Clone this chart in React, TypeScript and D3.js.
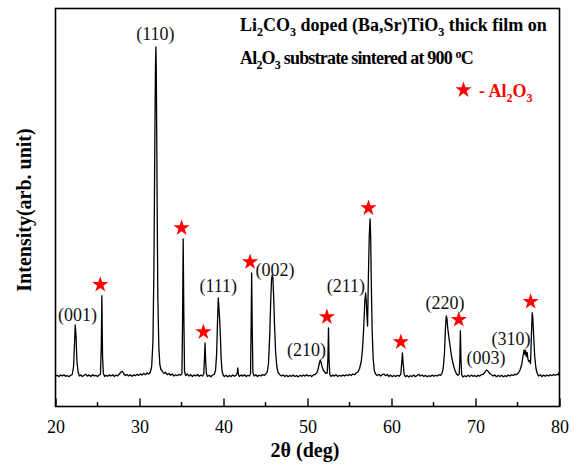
import React, { useRef, useEffect } from 'react';
import * as d3 from 'd3';

// XRD trace: [2theta (deg), intensity (a.u.)]
const xrdTrace: [number, number][] = [
  [20.0, 305], [20.2, 312], [20.4, 300], [20.6, 315], [20.8, 305], [21.0, 318], [21.2, 302], [21.4, 310],
  [21.6, 298], [21.8, 312], [22.0, 320], [22.15, 400], [22.25, 600], [22.35, 815], [22.45, 700], [22.55, 450],
  [22.7, 340], [22.85, 305], [23.0, 315], [23.2, 300], [23.4, 312], [23.6, 322], [23.8, 304], [24.0, 316],
  [24.2, 300], [24.4, 318], [24.6, 306], [24.8, 312], [25.0, 300], [25.2, 315], [25.35, 320], [25.45, 600],
  [25.52, 1108], [25.6, 500], [25.7, 330], [25.85, 300], [26.0, 312], [26.2, 302], [26.4, 316], [26.6, 305],
  [26.8, 318], [27.0, 300], [27.2, 314], [27.4, 306], [27.6, 325], [27.8, 345], [27.95, 352], [28.1, 330],
  [28.3, 310], [28.5, 320], [28.7, 305], [28.9, 318], [29.1, 302], [29.3, 316], [29.5, 308], [29.7, 322],
  [29.9, 310], [30.1, 326], [30.3, 314], [30.5, 330], [30.7, 318], [30.9, 335], [31.1, 325], [31.3, 345],
  [31.45, 400], [31.6, 650], [31.72, 1400], [31.82, 2600], [31.9, 3400], [31.95, 3595], [32.0, 3350], [32.08, 2300],
  [32.18, 1100], [32.3, 600], [32.42, 420], [32.55, 370], [32.7, 355], [32.9, 330], [33.1, 342], [33.3, 318],
  [33.5, 330], [33.7, 312], [33.9, 325], [34.1, 305], [34.3, 318], [34.5, 308], [34.7, 322], [34.9, 312],
  [35.05, 330], [35.12, 800], [35.2, 1675], [35.28, 900], [35.36, 350], [35.5, 310], [35.7, 325], [35.9, 305],
  [36.1, 318], [36.3, 300], [36.5, 315], [36.7, 306], [36.9, 320], [37.1, 302], [37.3, 314], [37.5, 305],
  [37.65, 325], [37.73, 470], [37.8, 635], [37.88, 450], [37.96, 330], [38.1, 300], [38.3, 312], [38.5, 298],
  [38.7, 315], [38.9, 320], [39.05, 360], [39.18, 520], [39.3, 880], [39.38, 1085], [39.46, 980], [39.55, 860],
  [39.63, 700], [39.72, 480], [39.82, 360], [39.95, 315], [40.1, 300], [40.3, 312], [40.5, 296], [40.7, 310],
  [40.9, 300], [41.1, 315], [41.3, 302], [41.5, 312], [41.62, 330], [41.7, 385], [41.78, 320], [41.9, 300],
  [42.1, 316], [42.3, 304], [42.5, 318], [42.7, 300], [42.9, 312], [43.1, 305], [43.22, 330], [43.29, 800],
  [43.35, 1335], [43.42, 800], [43.5, 340], [43.65, 305], [43.85, 318], [44.05, 300], [44.25, 314], [44.45, 305],
  [44.65, 320], [44.85, 310], [45.05, 325], [45.2, 345], [45.35, 420], [45.5, 700], [45.62, 1050], [45.72, 1270],
  [45.8, 1315], [45.88, 1290], [45.97, 1100], [46.07, 820], [46.2, 550], [46.35, 400], [46.5, 340], [46.7, 318],
  [46.9, 305], [47.1, 315], [47.3, 300], [47.5, 312], [47.7, 298], [47.9, 310], [48.1, 302], [48.3, 314],
  [48.5, 300], [48.7, 310], [48.9, 296], [49.1, 312], [49.3, 302], [49.5, 315], [49.7, 304], [49.9, 318],
  [50.1, 305], [50.3, 312], [50.5, 300], [50.7, 316], [50.9, 320], [51.1, 335], [51.25, 370], [51.4, 430],
  [51.52, 465], [51.62, 440], [51.75, 395], [51.9, 360], [52.05, 345], [52.2, 330], [52.35, 335], [52.43, 480],
  [52.5, 785], [52.57, 460], [52.65, 320], [52.8, 300], [53.0, 314], [53.2, 304], [53.4, 318], [53.6, 300],
  [53.8, 312], [54.0, 302], [54.2, 315], [54.4, 305], [54.6, 318], [54.8, 308], [55.0, 322], [55.2, 310],
  [55.4, 325], [55.6, 318], [55.8, 335], [56.0, 345], [56.2, 380], [56.4, 450], [56.55, 580], [56.7, 800],
  [56.82, 1050], [56.92, 1135], [57.0, 1050], [57.08, 900], [57.15, 805], [57.25, 1300], [57.35, 1700], [57.45, 1875],
  [57.52, 1700], [57.6, 1200], [57.7, 750], [57.82, 480], [57.95, 360], [58.1, 325], [58.3, 310], [58.5, 322],
  [58.7, 305], [58.9, 318], [59.1, 325], [59.3, 308], [59.5, 320], [59.7, 300], [59.9, 314], [60.1, 298],
  [60.3, 310], [60.5, 300], [60.7, 312], [60.9, 302], [61.1, 320], [61.2, 420], [61.3, 535], [61.4, 420],
  [61.5, 325], [61.65, 298], [61.85, 310], [62.05, 295], [62.25, 308], [62.45, 300], [62.65, 315], [62.85, 298],
  [63.05, 310], [63.25, 322], [63.45, 305], [63.65, 315], [63.85, 300], [64.05, 312], [64.25, 296], [64.45, 308],
  [64.65, 300], [64.85, 314], [65.05, 302], [65.25, 312], [65.45, 305], [65.65, 318], [65.85, 312], [66.0, 330],
  [66.15, 380], [66.3, 520], [66.42, 780], [66.52, 905], [66.6, 880], [66.7, 780], [66.85, 680], [67.0, 590],
  [67.15, 500], [67.3, 440], [67.45, 390], [67.6, 350], [67.75, 325], [67.9, 312], [68.05, 320], [68.13, 450],
  [68.2, 758], [68.27, 480], [68.35, 320], [68.5, 295], [68.7, 308], [68.9, 298], [69.1, 312], [69.3, 300],
  [69.5, 314], [69.7, 302], [69.9, 310], [70.1, 298], [70.3, 312], [70.5, 304], [70.7, 318], [70.9, 322],
  [71.1, 340], [71.3, 365], [71.5, 352], [71.7, 330], [71.9, 318], [72.1, 305], [72.3, 315], [72.5, 298],
  [72.7, 310], [72.9, 300], [73.1, 312], [73.3, 296], [73.5, 308], [73.7, 300], [73.9, 315], [74.1, 305],
  [74.3, 318], [74.5, 310], [74.7, 322], [74.9, 320], [75.1, 335], [75.3, 365], [75.5, 420], [75.65, 500],
  [75.78, 565], [75.88, 520], [75.96, 560], [76.05, 500], [76.15, 540], [76.25, 470], [76.35, 450], [76.45, 460],
  [76.55, 430], [76.65, 700], [76.75, 938], [76.83, 880], [76.93, 700], [77.05, 500], [77.2, 380], [77.35, 330],
  [77.5, 305], [77.7, 318], [77.9, 300], [78.1, 314], [78.3, 302], [78.5, 315], [78.7, 305], [78.9, 318],
  [79.1, 308], [79.3, 320], [79.5, 312], [79.7, 322], [79.85, 315], [80.0, 348],
];

// perovskite reflections: [label, 2theta of label centre, intensity at label baseline]
const hklLabels: [string, number, number][] = [
  ['(001)', 22.62, 855],
  ['(110)', 31.9, 3665],
  ['(111)', 39.38, 1145],
  ['(002)', 46.13, 1310],
  ['(210)', 49.88, 505],
  ['(211)', 54.58, 1150],
  ['(220)', 66.37, 975],
  ['(003)', 71.25, 425],
  ['(310)', 74.23, 615],
];

// Al2O3 substrate peaks (2theta)
const al2o3Peaks = [25.52, 35.2, 37.8, 43.35, 52.5, 57.45, 61.3, 68.2, 76.75];

const xDomain: [number, number] = [20, 80];
const yDomain: [number, number] = [0, 3980];
const xMajorTicks = [20, 30, 40, 50, 60, 70, 80];
const xMinorTicks = [25, 35, 45, 55, 65, 75];

const W = 575;
const H = 468;
const FONT = 'Liberation Serif';

const App = () => {
  const svgRef = useRef<SVGSVGElement>(null);

  useEffect(() => {
    const svg = d3.select(svgRef.current);
    svg.selectAll('*').remove();

    const left = 55.5, right = 559.5, top = 8.5, bottom = 406.5;

    const x = d3.scaleLinear().domain(xDomain).range([left, right]);
    const y = d3.scaleLinear().domain(yDomain).range([bottom, top]);

    // the XRD pattern
    const line = d3.line<[number, number]>()
      .x(d => x(d[0]))
      .y(d => y(d[1]));

    svg.append('path')
      .datum(xrdTrace)
      .attr('d', line)
      .attr('fill', 'none')
      .attr('stroke', '#000')
      .attr('stroke-width', 1.3)
      .attr('stroke-linejoin', 'round');

    // frame
    svg.append('rect')
      .attr('x', left)
      .attr('y', top)
      .attr('width', right - left)
      .attr('height', bottom - top)
      .attr('fill', 'none')
      .attr('stroke', '#000')
      .attr('stroke-width', 1.6);

    // bottom axis, ticks pointing inwards
    const axis = svg.append('g')
      .attr('transform', `translate(0,${bottom})`)
      .call(d3.axisBottom(x).tickValues(xMajorTicks).tickSize(-8).tickPadding(14).tickFormat(d3.format('d')));
    axis.select('.domain').remove();
    axis.selectAll('line').attr('stroke-width', 1.4);
    axis.selectAll('text')
      .attr('font-family', FONT)
      .attr('font-size', 18)
      .attr('fill', '#000');

    svg.append('g')
      .selectAll('line')
      .data(xMinorTicks)
      .enter()
      .append('line')
      .attr('x1', d => x(d))
      .attr('x2', d => x(d))
      .attr('y1', bottom)
      .attr('y2', bottom - 4.5)
      .attr('stroke', '#000')
      .attr('stroke-width', 1.4);

    // hkl labels
    svg.append('g')
      .selectAll('text')
      .data(hklLabels)
      .enter()
      .append('text')
      .attr('x', d => x(d[1]))
      .attr('y', d => y(d[2]))
      .attr('text-anchor', 'middle')
      .attr('font-family', FONT)
      .attr('font-size', 18)
      .attr('fill', '#111')
      .text(d => d[0]);

    // Al2O3 stars just above each peak
    const peakTop = (p: number) =>
      d3.max(xrdTrace.filter(d => Math.abs(d[0] - p) < 0.1), d => d[1]) as number;

    const star = d3.symbol().type(d3.symbolStar).size(82);
    svg.append('g')
      .selectAll('path')
      .data(al2o3Peaks)
      .enter()
      .append('path')
      .attr('d', star)
      .attr('transform', d => `translate(${x(d) - 1.6},${y(peakTop(d)) - 11})`)
      .attr('fill', '#ff0000');

    // title
    const title = svg.append('text')
      .attr('font-family', FONT)
      .attr('font-weight', 'bold')
      .attr('font-size', 18)
      .attr('fill', '#000')
      .attr('x', 240)
      .attr('y', 30.5);
    title.append('tspan').text('Li');
    title.append('tspan').attr('font-size', 12).attr('dy', 5).text('2');
    title.append('tspan').attr('dy', -5).text('CO');
    title.append('tspan').attr('font-size', 12).attr('dy', 5).text('3');
    title.append('tspan').attr('dy', -5).text(' doped (Ba,Sr)TiO');
    title.append('tspan').attr('font-size', 12).attr('dy', 5).text('3');
    title.append('tspan').attr('dy', -5).text(' thick film on');

    const title2 = svg.append('text')
      .attr('font-family', FONT)
      .attr('font-weight', 'bold')
      .attr('font-size', 18)
      .attr('fill', '#000')
      .attr('letter-spacing', -0.8)
      .attr('x', 240)
      .attr('y', 64);
    title2.append('tspan').text('Al');
    title2.append('tspan').attr('font-size', 12).attr('dy', 5).text('2');
    title2.append('tspan').attr('dy', -5).text('O');
    title2.append('tspan').attr('font-size', 12).attr('dy', 5).text('3');
    title2.append('tspan').attr('dy', -5).text(' substrate sintered at 900 ');
    title2.append('tspan').attr('font-size', 12).attr('dy', -6).text('o');
    title2.append('tspan').attr('dy', 6).text('C');

    // legend
    svg.append('path')
      .attr('d', star)
      .attr('transform', 'translate(463.5,90)')
      .attr('fill', '#ff0000');

    const leg = svg.append('text')
      .attr('font-family', FONT)
      .attr('font-weight', 'bold')
      .attr('font-size', 18)
      .attr('fill', '#ff0000')
      .attr('x', 479)
      .attr('y', 96.5);
    leg.append('tspan').text('- Al');
    leg.append('tspan').attr('font-size', 12).attr('dy', 5).text('2');
    leg.append('tspan').attr('dy', -5).text('O');
    leg.append('tspan').attr('font-size', 12).attr('dy', 5).text('3');

    // axis titles
    svg.append('text')
      .attr('x', 305)
      .attr('y', 457)
      .attr('text-anchor', 'middle')
      .attr('font-family', FONT)
      .attr('font-weight', 'bold')
      .attr('font-size', 20)
      .text('2θ (deg)');

    svg.append('text')
      .attr('transform', `translate(31,210) rotate(-90)`)
      .attr('text-anchor', 'middle')
      .attr('font-family', FONT)
      .attr('font-weight', 'bold')
      .attr('font-size', 20)
      .text('Intensity(arb. unit)');
  }, []);

  return (
    <svg
      ref={svgRef}
      width={W}
      height={H}
      style={{ position: 'fixed', left: 0, top: 0, background: '#fff' }}
    />
  );
};

export default App;
